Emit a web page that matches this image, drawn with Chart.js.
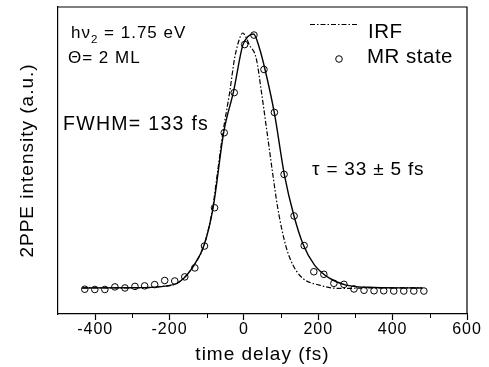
<!DOCTYPE html>
<html><head><meta charset="utf-8">
<script src="https://cdn.jsdelivr.net/npm/chart.js@4.4.0/dist/chart.umd.min.js"></script>
<style>html,body{margin:0;padding:0;background:#fff;}</style>
</head><body>
<canvas id="c" width="489" height="367" style="width:489px;height:367px;display:block"></canvas>
<script>
// measured MR state points: delay (fs) and normalized 2PPE intensity
const delays = [-428,-401,-374,-347,-320,-293,-267,-240,-213,-186,-159,-132,-106,-79,-53,-26,2,27,54,82,108,135,162,188,215,242,269,296,323,350,376,403,430,457,484];
const intensity = [0.003,0.002,0.002,0.012,0.008,0.014,0.016,0.021,0.037,0.035,0.051,0.086,0.171,0.320,0.612,0.768,0.955,0.992,0.858,0.691,0.450,0.288,0.173,0.071,0.061,0.026,0.022,0.004,-0.001,-0.003,-0.003,-0.004,-0.004,-0.004,-0.004];
// fit curve (solid)
const fitDelay = [-435,-300,-226,-173,-134,-107,-83,-54,-28,-3,11,26,42,56,82,109,134,160,190,230,275,350,480];
const fitIntensity = [0.008,0.009,0.013,0.032,0.097,0.175,0.319,0.616,0.772,0.953,0.986,0.996,0.94,0.863,0.688,0.447,0.292,0.175,0.097,0.046,0.019,0.010,0.008];
// instrument response function (dash-dot)
const irfDelay = [-435,-300,-226,-173,-134,-107,-84,-72,-56,-38,-25,-10,-3,5,15,33,47,62,78,91,112,132,158,203,257,350,480];
const irfIntensity = [0.008,0.008,0.013,0.032,0.097,0.175,0.319,0.447,0.616,0.772,0.902,0.985,1.0,0.985,0.953,0.902,0.772,0.616,0.447,0.319,0.175,0.097,0.046,0.019,0.006,0.008,0.008];
const xTickValues = [-400,-200,0,200,400,600];
const xMinorTicks = [-300,-100,100,300,500];

const FONT = 'Liberation Sans, Arial, sans-serif';
const toXY = (xs, ys) => xs.map((x, i) => ({x: x, y: ys[i]}));

const spacingPlugin = {
  id: 'spacing',
  beforeDraw(chart) { chart.ctx.letterSpacing = '1px'; }
};

const decorPlugin = {
  id: 'decor',
  afterDraw(chart) {
    const ctx = chart.ctx;
    const a = chart.chartArea;
    const xs = chart.scales.x;
    ctx.save();
    // top and right frame
    ctx.strokeStyle = '#000';
    ctx.lineWidth = 1.2;
    ctx.beginPath();
    ctx.moveTo(a.left, a.top); ctx.lineTo(a.right, a.top); ctx.lineTo(a.right, a.bottom);
    ctx.stroke();
    // minor ticks
    ctx.lineWidth = 1;
    ctx.beginPath();
    xMinorTicks.forEach(v => {
      const px = Math.round(xs.getPixelForValue(v)) + 0.5;
      ctx.moveTo(px, a.bottom); ctx.lineTo(px, a.bottom + 4);
    });
    ctx.stroke();
    // texts
    ctx.fillStyle = '#000';
    ctx.textBaseline = 'alphabetic';
    ctx.textAlign = 'left';
    ctx.letterSpacing = '1px';
    ctx.font = '17px ' + FONT;
    let x = 71;
    ctx.fillText('h\u03BD', x, 38);
    x += ctx.measureText('h\u03BD').width;
    ctx.font = '11.5px ' + FONT;
    ctx.fillText('2', x, 43);
    x += ctx.measureText('2').width;
    ctx.font = '17px ' + FONT;
    ctx.fillText(' = 1.75 eV', x, 38);
    ctx.fillText('\u0398= 2 ML', 68, 63);
    ctx.letterSpacing = '1.3px';
    ctx.font = '19.5px ' + FONT;
    ctx.fillText('FWHM= 133 fs', 63, 130);
    ctx.letterSpacing = '0.8px';
    ctx.font = '19px ' + FONT;
    ctx.fillText('\u03C4 = 33 \u00B1 5 fs', 312, 175);
    // legend
    ctx.letterSpacing = '0.5px';
    ctx.font = '20.5px ' + FONT;
    ctx.fillText('IRF', 368, 38);
    ctx.fillText('MR state', 367, 63);
    ctx.lineWidth = 1.2;
    ctx.setLineDash([5, 2, 1.5, 2]);
    ctx.beginPath(); ctx.moveTo(310, 24.5); ctx.lineTo(358, 24.5); ctx.stroke();
    ctx.setLineDash([]);
    ctx.lineWidth = 1;
    ctx.beginPath(); ctx.arc(339, 59, 3.3, 0, Math.PI * 2); ctx.stroke();
    ctx.restore();
  }
};

new Chart(document.getElementById('c'), {
  type: 'scatter',
  data: {
    datasets: [
      {label: 'MR state', data: toXY(delays, intensity), showLine: false,
       pointRadius: 3.3, pointBorderWidth: 1, pointBorderColor: '#000', pointBackgroundColor: 'rgba(0,0,0,0)', order: 0},
      {label: 'fit', data: toXY(fitDelay, fitIntensity), showLine: true, pointRadius: 0,
       borderColor: '#000', borderWidth: 1.4, cubicInterpolationMode: 'monotone', order: 1},
      {label: 'IRF', data: toXY(irfDelay, irfIntensity), showLine: true, pointRadius: 0,
       borderColor: '#000', borderWidth: 1.2, borderDash: [5, 2, 1.5, 2], cubicInterpolationMode: 'monotone', order: 2}
    ]
  },
  options: {
    responsive: false, animation: false, devicePixelRatio: 1,
    layout: {padding: {top: 7, right: 22, left: 0, bottom: 0}},
    plugins: {legend: {display: false}, tooltip: {enabled: false}},
    scales: {
      x: {
        type: 'linear', min: -500, max: 600,
        afterBuildTicks: s => { s.ticks = xTickValues.map(v => ({value: v})); },
        ticks: {font: {family: FONT, size: 16}, color: '#000', padding: 0, maxRotation: 0, autoSkip: false},
        grid: {display: true, drawOnChartArea: false, drawTicks: true, tickLength: 6, tickColor: '#000', tickWidth: 1.2},
        border: {display: true, color: '#000', width: 1.2},
        title: {display: true, text: 'time delay (fs)', font: {family: FONT, size: 19}, color: '#000', padding: {top: 0, bottom: 1}},
        afterFit: s => { s.height = 53; }
      },
      y: {
        type: 'linear', min: -0.0934, max: 1.1012,
        ticks: {display: false},
        grid: {display: false},
        border: {display: true, color: '#000', width: 1.2},
        title: {display: true, text: '2PPE intensity (a.u.)', font: {family: FONT, size: 19}, color: '#000', padding: {top: 16, bottom: 0}},
        afterFit: s => { s.width = 58; }
      }
    }
  },
  plugins: [spacingPlugin, decorPlugin]
});
</script>
</body></html>
